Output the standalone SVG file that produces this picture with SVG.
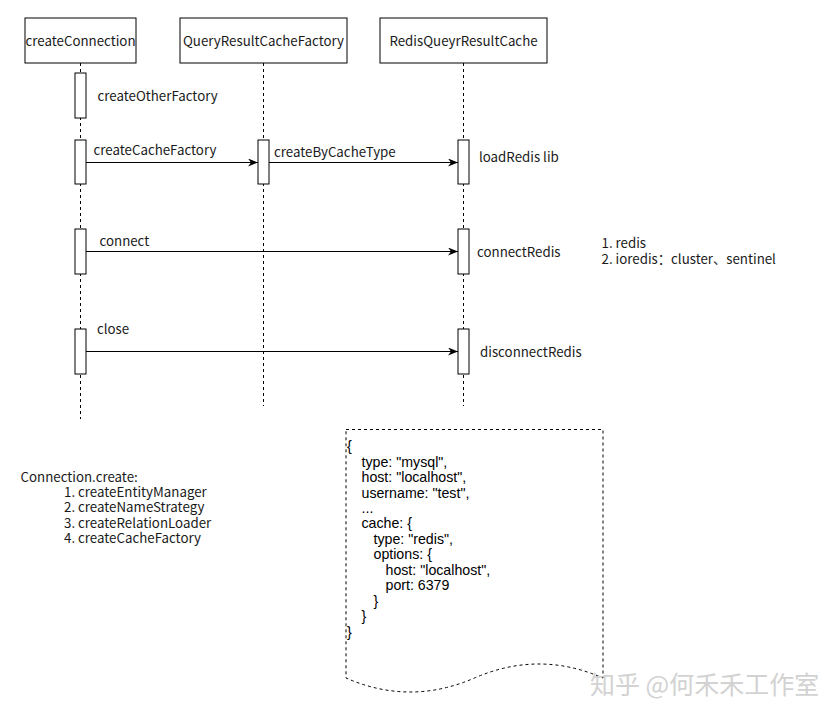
<svg xmlns="http://www.w3.org/2000/svg" width="840" height="720" viewBox="0 0 840 720">
<style>
.box{fill:#fff;stroke:#000;stroke-width:1}
.act{fill:#fff;stroke:#000;stroke-width:1}
.life{stroke:#000;stroke-width:1;stroke-dasharray:3 3;fill:none}
.msg{stroke:#000;stroke-width:1;fill:none;marker-end:url(#arr)}
.t{font-family:"Noto Sans CJK SC","Noto Sans",sans-serif;font-size:13.3px;fill:#1a1a1a}
.c{text-anchor:middle}
.code{font-family:"Liberation Sans",Arial,sans-serif;font-size:14.2px;fill:#000}
.note{fill:#fff;stroke:#000;stroke-width:1;stroke-dasharray:3 3}
.wm{font-family:"Noto Sans CJK SC",sans-serif;font-size:25px;fill:#d2d2d2}
</style>
<defs>
<marker id="arr" viewBox="0 0 10 8" refX="10" refY="4" markerWidth="10" markerHeight="8" markerUnits="userSpaceOnUse" orient="auto">
<path d="M0,0 L10,4 L0,8 L3,4 Z" fill="#000"/>
</marker>
</defs>
<rect width="840" height="720" fill="#fff"/>
<g id="lifelines">
<line class="life" x1="80.5" y1="63" x2="80.5" y2="419"/>
<line class="life" x1="263.5" y1="63" x2="263.5" y2="406"/>
<line class="life" x1="463.5" y1="63" x2="463.5" y2="406"/>
</g>
<g id="createConnection">
<rect class="box" x="25" y="18" width="111" height="45"/>
<text class="t c" x="80.5" y="45.5">createConnection</text>
</g>
<g id="QueryResultCacheFactory">
<rect class="box" x="180" y="18" width="167" height="45"/>
<text class="t c" x="263.5" y="45.5">QueryResultCacheFactory</text>
</g>
<g id="RedisQueyrResultCache">
<rect class="box" x="380" y="18" width="167" height="45"/>
<text class="t c" x="463.5" y="45.5">RedisQueyrResultCache</text>
</g>
<g id="activations">
<rect class="act" x="75" y="73" width="11" height="45"/>
<rect class="act" x="75" y="140" width="11" height="44"/>
<rect class="act" x="258" y="140" width="11" height="44"/>
<rect class="act" x="458" y="140" width="11" height="44"/>
<rect class="act" x="75" y="229" width="11" height="45"/>
<rect class="act" x="458" y="229" width="11" height="45"/>
<rect class="act" x="75" y="329" width="11" height="45"/>
<rect class="act" x="458" y="329" width="11" height="45"/>
</g>
<g id="connectors">
<line class="msg" x1="86" y1="162.5" x2="258" y2="162.5"/>
<line class="msg" x1="269" y1="162.5" x2="458" y2="162.5"/>
<line class="msg" x1="86" y1="251.5" x2="458" y2="251.5"/>
<line class="msg" x1="86" y1="351.5" x2="458" y2="351.5"/>
</g>
<g id="labels">
<text class="t" x="97.5" y="101">createOtherFactory</text>
<text class="t" x="93.5" y="154.5">createCacheFactory</text>
<text class="t" x="274" y="156.5">createByCacheType</text>
<text class="t" x="479" y="162">loadRedis lib</text>
<text class="t" x="99.5" y="245.5">connect</text>
<text class="t" x="477" y="256.5">connectRedis</text>
<text class="t" x="97" y="333.5">close</text>
<text class="t" x="480" y="356.5">disconnectRedis</text>
<text class="t" x="601.5" y="248"><tspan x="601.5" y="248">1. redis</tspan><tspan x="601.5" y="264">2. ioredis：cluster、sentinel</tspan></text>
</g>
<g id="connectionCreate">
<text class="t" x="20.5" y="481.5"><tspan x="20.5" y="481.5">Connection.create:</tspan><tspan x="64" y="496.5">1. createEntityManager</tspan><tspan x="64" y="512">2. createNameStrategy</tspan><tspan x="64" y="527.5">3. createRelationLoader</tspan><tspan x="64" y="543">4. createCacheFactory</tspan></text>
</g>
<g id="configNote">
<path class="note" d="M346,429.5 L603,429.5 L603,678 Q539,650 474.5,678 Q410,706 346,678 Z"/>
<text class="code" x="347" y="451">{</text>
<text class="code" x="361.5" y="466.5">type: "mysql",</text>
<text class="code" x="361.5" y="482">host: "localhost",</text>
<text class="code" x="361.5" y="497.5">username: "test",</text>
<text class="code" x="361.5" y="513">...</text>
<text class="code" x="361.5" y="528">cache: {</text>
<text class="code" x="373.5" y="543.5">type: "redis",</text>
<text class="code" x="373.5" y="559">options: {</text>
<text class="code" x="385.5" y="574.5">host: "localhost",</text>
<text class="code" x="385.5" y="590">port: 6379</text>
<text class="code" x="373.5" y="605.5">}</text>
<text class="code" x="361.5" y="621">}</text>
<text class="code" x="347" y="636.5">}</text>
</g>
<text class="wm" x="590" y="694">知乎 @何禾禾工作室</text>
</svg>
